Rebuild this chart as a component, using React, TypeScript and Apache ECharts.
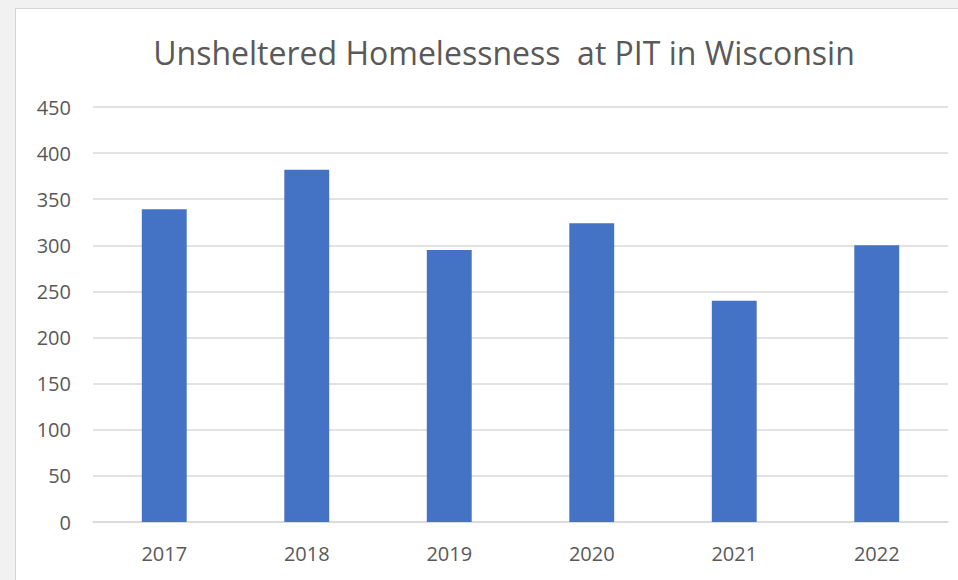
import React, { useEffect, useRef } from "react";
import * as echarts from "echarts";

const years = ["2017", "2018", "2019", "2020", "2021", "2022"];
const unsheltered = [339, 382, 295, 324, 240, 300];
const titleText = "Unsheltered Homelessness  at PIT in Wisconsin";

export default function App() {
  const ref = useRef<HTMLDivElement>(null);
  useEffect(() => {
    if (!ref.current) return;
    const chart = echarts.init(ref.current, null, { renderer: "svg" });
    const font = "'Open Sans', 'Liberation Sans', sans-serif";
    chart.setOption({
      animation: false,
      backgroundColor: "#ffffff",
      title: {
        text: titleText,
        left: 483,
        top: 22,
        textAlign: "center",
        textStyle: { fontFamily: font, fontSize: 32, fontWeight: "normal", color: "#595959" },
      },
      grid: { left: 77, right: 10, top: 98, bottom: 58, containLabel: false },
      xAxis: {
        type: "category",
        data: years,
        axisLine: { lineStyle: { color: "#d9d9d9", width: 1.5 } },
        axisTick: { show: false },
        axisLabel: { margin: 21, fontFamily: font, fontSize: 20, color: "#595959" },
      },
      yAxis: {
        type: "value",
        min: 0,
        max: 450,
        interval: 50,
        axisLine: { show: false },
        axisTick: { show: false },
        splitLine: { lineStyle: { color: "#d9d9d9", width: 1.5 } },
        axisLabel: { margin: 22, fontFamily: font, fontSize: 20, color: "#595959" },
      },
      series: [
        {
          type: "bar",
          data: unsheltered,
          barWidth: "31.5%",
          itemStyle: { color: "#4472c4" },
        },
      ],
    });
    return () => chart.dispose();
  }, []);
  return (
    <div style={{ position: "fixed", left: 0, top: 0, width: 958, height: 580, background: "#f1f1f1", overflow: "hidden" }}>
      <div
        style={{
          position: "absolute",
          left: 15,
          top: 8,
          width: 943,
          height: 572,
          borderLeft: "1px solid #d4d4d4",
          borderTop: "1px solid #d4d4d4",
          background: "#fff",
        }}
      >
        <div ref={ref} style={{ width: 942, height: 571 }} />
      </div>
    </div>
  );
}
